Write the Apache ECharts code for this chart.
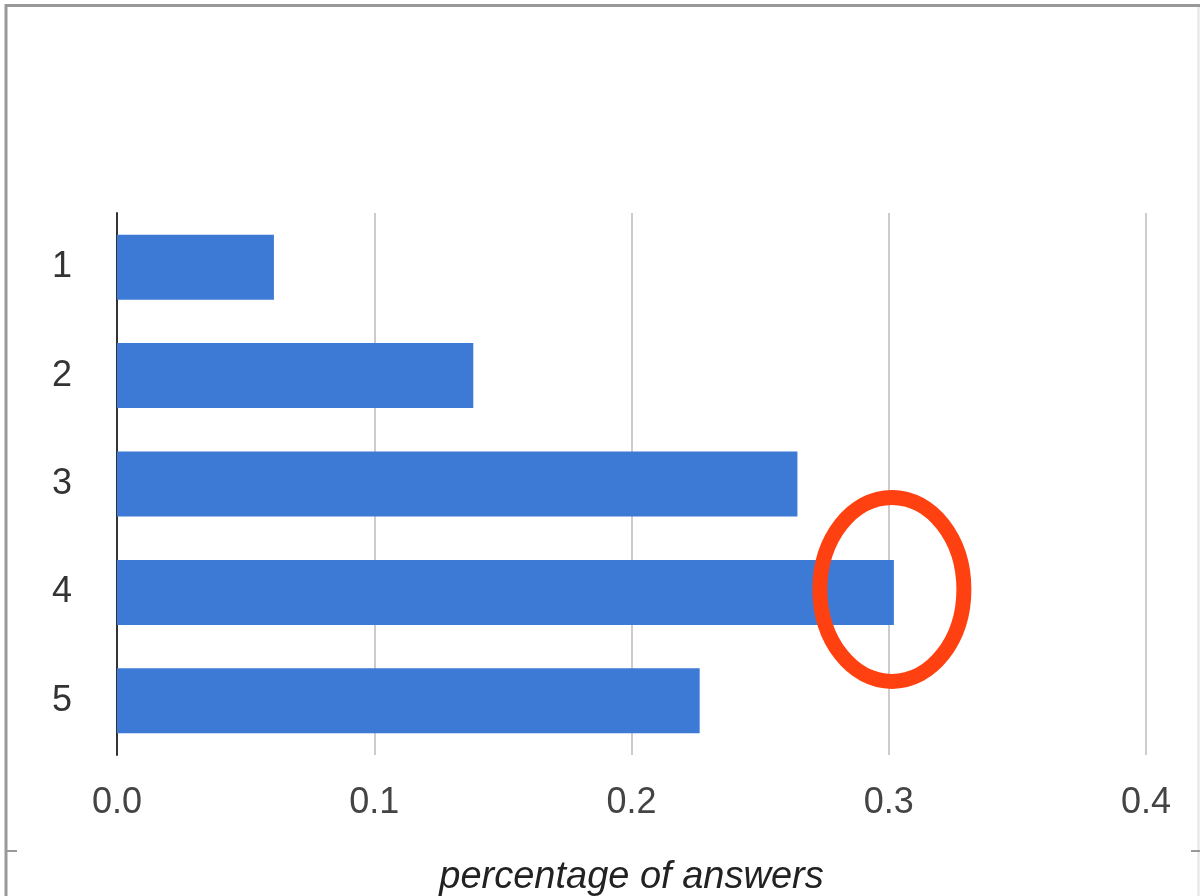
<!DOCTYPE html>
<html>
<head>
<meta charset="utf-8">
<script src="https://cdn.jsdelivr.net/npm/echarts@6/dist/echarts.min.js"></script>
<style>
  html, body { margin: 0; padding: 0; background: #fff; }
  #chart { width: 1200px; height: 896px; }
</style>
</head>
<body>
<div id="chart"></div>
<script>
// Rating categories and the share of answers given to each
const categories = ['1', '2', '3', '4', '5'];
const shares = [0.061, 0.1385, 0.2645, 0.302, 0.2265];
const xTicks = [0, 0.1, 0.2, 0.3, 0.4];
// The category whose bar gets circled
const highlighted = '4';

const FONT = '"Liberation Sans", Arial, sans-serif';

const chart = echarts.init(document.getElementById('chart'), null, { renderer: 'canvas' });

const option = {
  animation: false,
  backgroundColor: '#ffffff',
  grid: { left: 117, right: 54, top: 213, bottom: 141, containLabel: false, outerBoundsMode: 'none' },
  xAxis: {
    type: 'value',
    min: xTicks[0],
    max: xTicks[xTicks.length - 1],
    interval: 0.1,
    name: 'percentage of answers',
    nameLocation: 'middle',
    nameGap: 103,
    nameTextStyle: { fontFamily: FONT, fontSize: 38, fontStyle: 'italic', color: '#222' },
    axisLine: { show: false },
    axisTick: { show: false },
    axisLabel: {
      fontFamily: FONT, fontSize: 36, color: '#444', margin: 30,
      formatter: v => v.toFixed(1)
    },
    splitLine: { show: true, lineStyle: { color: '#cccccc', width: 2 } }
  },
  yAxis: {
    type: 'category',
    data: categories,
    inverse: true,
    axisLine: { show: true, onZero: false, lineStyle: { color: '#333', width: 2 } },
    axisTick: { show: false },
    axisLabel: { fontFamily: FONT, fontSize: 36, color: '#333', margin: 45 },
    splitLine: { show: false }
  },
  series: [{
    type: 'bar',
    data: shares,
    barCategoryGap: '40%',
    itemStyle: { color: '#3d7ad6' },
    z: 3
  }]
};

chart.setOption(option);

// Outline around the page and the red ring drawn at the highlighted bar's end
const idx = categories.indexOf(highlighted);
const centre = chart.convertToPixel({ seriesIndex: 0 }, [shares[idx], idx]);

chart.setOption({
  graphic: [
    { type: 'line', shape: { x1: 5, y1: 5.5, x2: 1200, y2: 5.5 }, style: { stroke: '#999', lineWidth: 3 }, silent: true },
    { type: 'line', shape: { x1: 6, y1: 4, x2: 6, y2: 896 }, style: { stroke: '#999', lineWidth: 3 }, silent: true },
    { type: 'line', shape: { x1: 1198.5, y1: 7, x2: 1198.5, y2: 896 }, style: { stroke: '#e4e4e4', lineWidth: 2 }, silent: true },
    { type: 'line', shape: { x1: 6, y1: 851, x2: 17, y2: 851 }, style: { stroke: '#999', lineWidth: 2 }, silent: true },
    { type: 'line', shape: { x1: 1191, y1: 851, x2: 1200, y2: 851 }, style: { stroke: '#999', lineWidth: 2 }, silent: true },
    {
      type: 'ellipse',
      shape: { cx: centre[0] - 2, cy: centre[1] - 3, rx: 72, ry: 92 },
      style: { fill: 'none', stroke: '#ff4010', lineWidth: 15 },
      z: 10,
      silent: true
    }
  ]
});
</script>
</body>
</html>
